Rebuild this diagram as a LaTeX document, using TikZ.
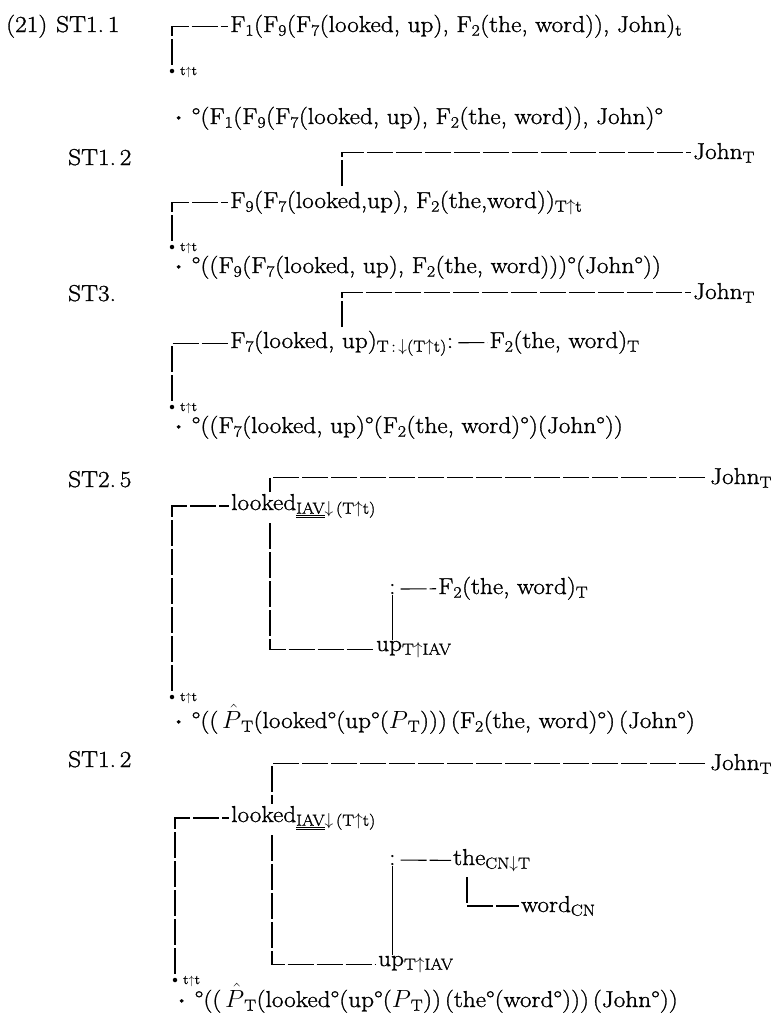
\documentclass[tikz,border=0pt]{standalone}
\usepackage{fontspec}
\setmainfont{Latin Modern Roman}[FakeStretch=1.1,FakeBold=1.2]
\usetikzlibrary{positioning}
\newcommand{\lo}[1]{\textsubscript{#1}}
\newcommand{\arrup}{$\uparrow$}
\newcommand{\arrdn}{$\downarrow$}
\newcommand{\bul}{\raisebox{3pt}{\fontsize{13}{13}\selectfont\textbullet}\ }

\begin{document}
\begin{tikzpicture}[x=1pt,y=-1pt,
  txt/.style={anchor=base west,inner sep=1pt,font=\fontsize{23}{27}\selectfont},
  tag/.style={anchor=base west,inner sep=0pt,font=\fontsize{13}{15}\selectfont},
  rootdot/.style={circle,fill,inner sep=0pt,minimum size=4.5pt},
  rule/.style={line width=1.1pt,dash pattern=on 26pt off 3pt,shorten <=4pt,shorten >=1pt}]
\useasboundingbox (0,0) rectangle (777,1023);

% ST1.1
\node[txt] (n21) at (5,32) {(21)};
\node[txt] (st11) at (55,32) {ST1.\,1};
\node[txt] (f1) at (229,32) {F\lo{1}(F\lo{9}(F\lo{7}(looked, up), F\lo{2}(the, word)), John)\lo{t}};
\node[rootdot] (r1) at (172,71) {};
\node[tag] (t1) at (180,75) {t\arrup t};
\draw[rule] (r1) |- (f1.west);
\node[txt] (e1) at (172,124) {\bul°(F\lo{1}(F\lo{9}(F\lo{7}(looked, up), F\lo{2}(the, word)), John)°};

% ST1.2
\node[txt] (st12a) at (67,165) {ST1.\,2};
\node[txt] (john2) at (692,159) {John\lo{T}};
\node[txt] (f9) at (229,208) {F\lo{9}(F\lo{7}(looked,up), F\lo{2}(the,word))\lo{T\arrup t}};
\coordinate (c2) at (342,190);
\draw[rule] (c2) |- (john2.west);
\node[rootdot] (r2) at (172,247) {};
\node[tag] (t2) at (180,251) {t\arrup t};
\draw[rule] (r2) |- (f9.west);
\node[txt] (e2) at (172,273) {\bul°((F\lo{9}(F\lo{7}(looked, up), F\lo{2}(the, word)))°(John°))};

% ST3.
\node[txt] (st3) at (67,301) {ST3.};
\node[txt] (john3) at (692,299) {John\lo{T}};
\node[txt] (f7) at (229,348) {F\lo{7}(looked, up)\lo{T\,:\,\arrdn(T\arrup t)}:};
\node[txt,base right=34pt of f7] (f23) {F\lo{2}(the, word)\lo{T}};
\draw[rule] (f7) -- (f23);
\coordinate (c3) at (342,331);
\draw[rule] (c3) |- (john3.west);
\node[rootdot] (r3) at (172,407) {};
\node[tag] (t3) at (180,411) {t\arrup t};
\draw[rule] (r3) |- (f7.west);
\node[txt] (e3) at (172,433) {\bul°((F\lo{7}(looked, up)°(F\lo{2}(the, word)°)(John°))};

% ST2.5
\node[txt] (st25) at (67,487) {ST2.\,5};
\node[txt] (john4) at (709,484) {John\lo{T}};
\node[txt] (lk4) at (230,510) {looked\lo{\underline{\underline{IAV}}\arrdn\,(T\arrup t)}};
\node[txt] (col4) at (388,594) {:};
\node[txt] (f24) at (437,594) {F\lo{2}(the, word)\lo{T}};
\node[txt] (up4) at (375,651) {up\lo{T\arrup IAV}};
\coordinate (k4) at (270,0);
\draw[rule] (john4.west) -| (k4 |- lk4.north);
\draw[rule] (k4 |- lk4.south) |- (up4.west);
\draw[rule] (col4) -- (f24);
\draw[line width=1.1pt] (col4.south) -- (col4.south |- up4.north);
\node[rootdot] (r4) at (172,697) {};
\node[tag] (t4) at (180,701) {t\arrup t};
\draw[rule] (r4) |- (lk4.west);
\node[txt] (e4) at (172,728) {\bul°((\,$\hat{P}$\lo{T}(looked°(up°($P$\lo{T})))\,(F\lo{2}(the,\ word)°)\,(John°)};

% ST1.2
\node[txt] (st12b) at (67,767) {ST1.\,2};
\node[txt] (john5) at (709,770) {John\lo{T}};
\node[txt] (lk5) at (230,822) {looked\lo{\underline{\underline{IAV}}\arrdn\,(T\arrup t)}};
\node[txt] (col5) at (388,865) {:};
\node[txt] (the5) at (452,865) {the\lo{CN\arrdn T}};
\node[txt] (word5) at (520,912) {word\lo{CN}};
\node[txt] (up5) at (377,966) {up\lo{T\arrup IAV}};
\coordinate (k5) at (272,0);
\coordinate (k5b) at (467,0);
\draw[rule] (john5.west) -| (k5 |- lk5.north);
\draw[rule] (k5 |- lk5.south) |- (up5.west);
\draw[rule] (col5) -- (the5);
\draw[line width=1.1pt] (col5.south) -- (col5.south |- up5.north);
\draw[rule] (k5b |- the5.south) |- (word5.west);
\node[rootdot] (r5) at (175,980) {};
\node[tag] (t5) at (183,984) {t\arrup t};
\draw[rule] (r5) |- (lk5.west);
\node[txt] (e5) at (175,1007) {\bul°((\,$\hat{P}$\lo{T}(looked°(up°($P$\lo{T}))\,(the°(word°)))\,(John°))};
\end{tikzpicture}
\end{document}
